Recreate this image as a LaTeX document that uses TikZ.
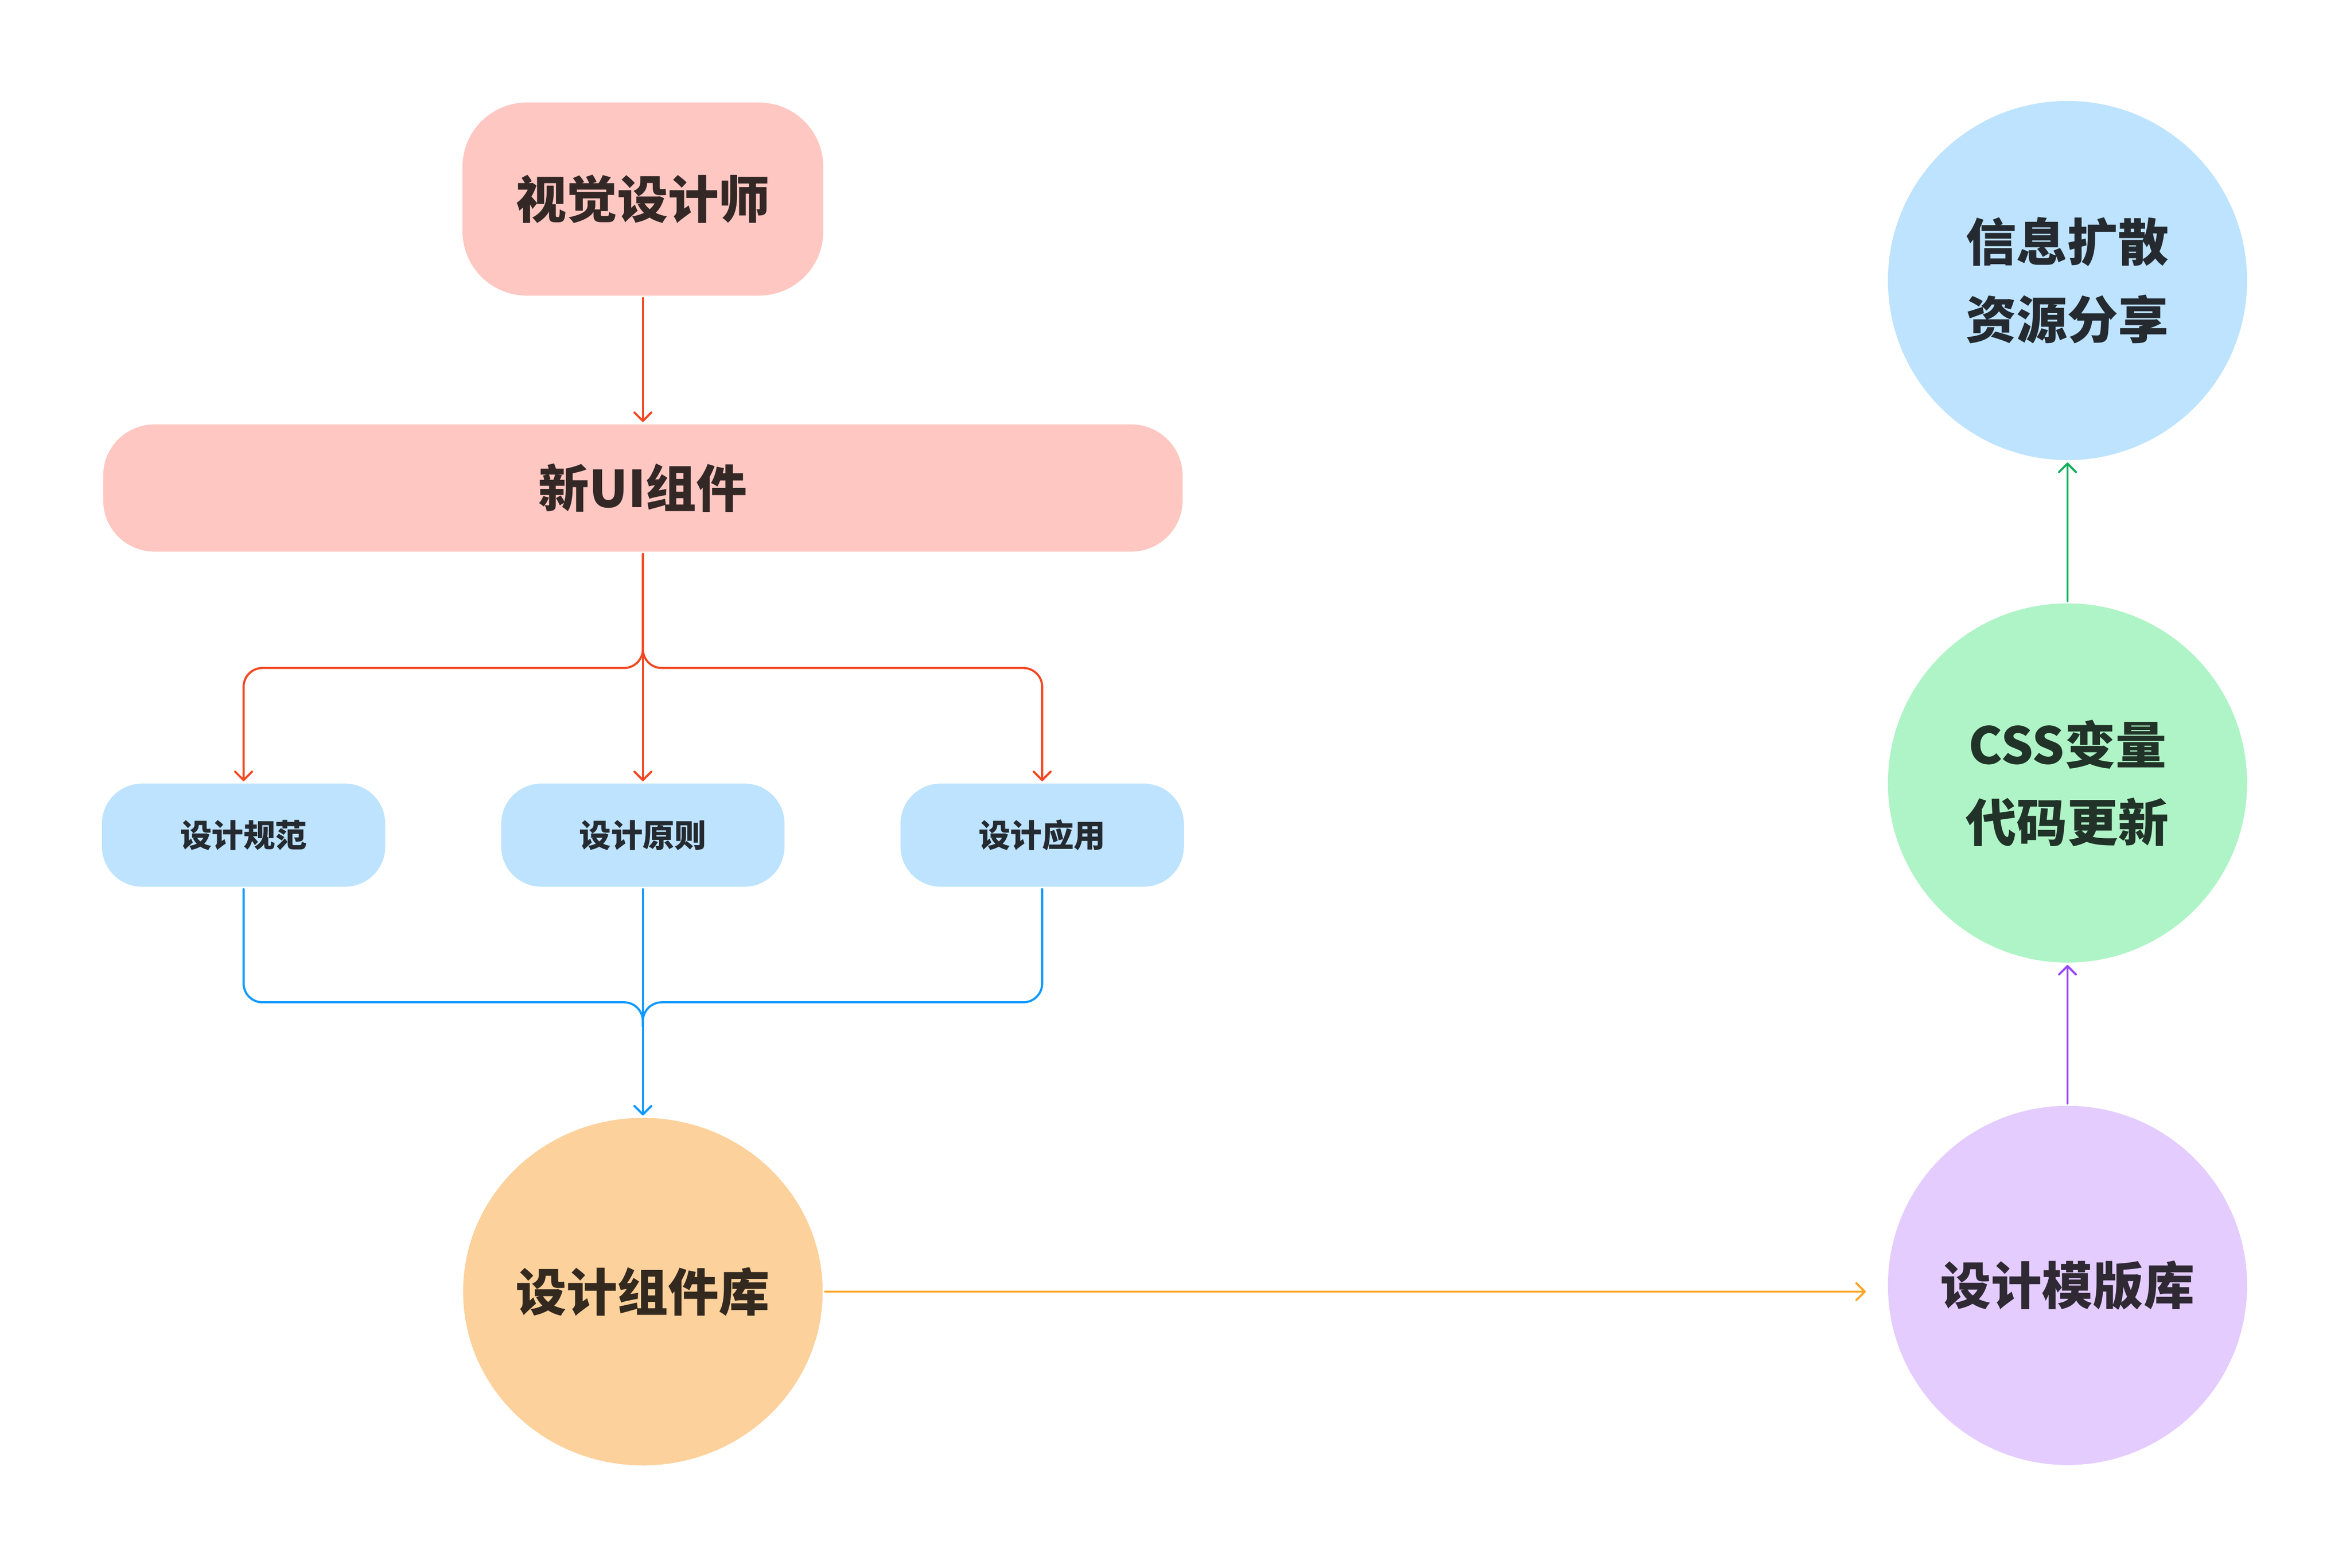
\documentclass[tikz,border=0pt]{standalone}
\usepackage{fontspec}
\setmainfont{Noto Sans CJK SC}
\usetikzlibrary{positioning,calc,arrows.meta,shapes.geometric}

\definecolor{pinkfill}{HTML}{FFC7C2}
\definecolor{bluefill}{HTML}{BDE3FF}
\definecolor{orangefill}{HTML}{FCD19C}
\definecolor{violetfill}{HTML}{E4CCFF}
\definecolor{greenfill}{HTML}{AFF4C6}
\definecolor{redline}{HTML}{F24822}
\definecolor{blueline}{HTML}{0D99FF}
\definecolor{orangeline}{HTML}{FFA629}
\definecolor{violetline}{HTML}{9747FF}
\definecolor{greenline}{HTML}{14AE5C}
\definecolor{redtext}{HTML}{332826}
\definecolor{bluetext}{HTML}{242A30}
\definecolor{orangetext}{HTML}{33291E}
\definecolor{violettext}{HTML}{2F2934}
\definecolor{greentext}{HTML}{213328}

\begin{document}
\begin{tikzpicture}[big/.style={font=\fontsize{36}{55}\selectfont\bfseries,align=center,inner sep=0pt,outer sep=0.06cm},
				small/.style={font=\fontsize{22.5}{27}\selectfont\bfseries,inner sep=0pt,outer sep=0.06cm},
				pinkbox/.style={big,rectangle,fill=pinkfill,text=redtext},
				tagbox/.style={small,rectangle,rounded corners=1cm,fill=bluefill,text=bluetext,minimum width=7.06cm,minimum height=2.57cm},
				disc/.style={big,circle,minimum size=8.95cm},
				link/.style={line width=1.5pt,line cap=round,rounded corners=0.47cm},
				tip/.style={-{Straight Barb[length=0.21cm,width=0.42cm,round]}}]
				\useasboundingbox (0,0) rectangle (58.56,-39.06);

				\node (vis)   [pinkbox,rounded corners=1.6cm,minimum width=8.99cm,minimum height=4.81cm] at (16.02,-4.96) {视觉设计师};
				\node (newui) [pinkbox,rounded corners=1.28cm,minimum width=26.9cm,minimum height=3.17cm,below=3.09cm of vis] {新UI组件};
				\node (rule)  [tagbox,below=5.66cm of newui] {设计原则};
				\node (spec)  [tagbox,left=2.77cm of rule]   {设计规范};
				\node (appl)  [tagbox,right=2.77cm of rule]  {设计应用};
				\node (lib)   [big,ellipse,minimum width=8.96cm,minimum height=8.66cm,fill=orangefill,text=orangetext,below=5.64cm of rule] {设计组件库};

				\node (tmpl)  [disc,fill=violetfill,text=violettext] at (51.52,-32.03) {设计模版库};
				\node (css)   [disc,fill=greenfill,text=greentext,above=3.45cm of tmpl] {CSS变量\\代码更新};
				\node (info)  [disc,fill=bluefill,text=bluetext,above=3.45cm of css] {信息扩散\\资源分享};

				\coordinate (split) at ($(newui.south)+(0,-2.84)$);
				\coordinate (join)  at ($(rule.south)+(0,-2.82)$);
				\coordinate (merge) at ($(join)+(0,-0.6)$);

				% red fan-out
				\draw[link,redline,tip] (vis) -- (newui);
				\draw[link,redline,tip] (newui.south) -- (rule.north);
				\draw[link,redline,tip] (newui.south) -- (split) -| (spec.north);
				\draw[link,redline,tip] (newui.south) -- (split) -| (appl.north);

				% blue merge
				\draw[link,blueline] (spec.south) |- (join) -- (merge);
				\draw[link,blueline] (appl.south) |- (join) -- (merge);
				\draw[link,blueline,tip] (rule.south) -- (lib.north);

				\draw[link,orangeline,tip,shorten >=0.49cm] (lib.east) -- (lib.east -| tmpl.west);
				\draw[link,violetline,tip] (tmpl) -- (css);
				\draw[link,greenline,tip]  (css) -- (info);
			\end{tikzpicture}
\end{document}
